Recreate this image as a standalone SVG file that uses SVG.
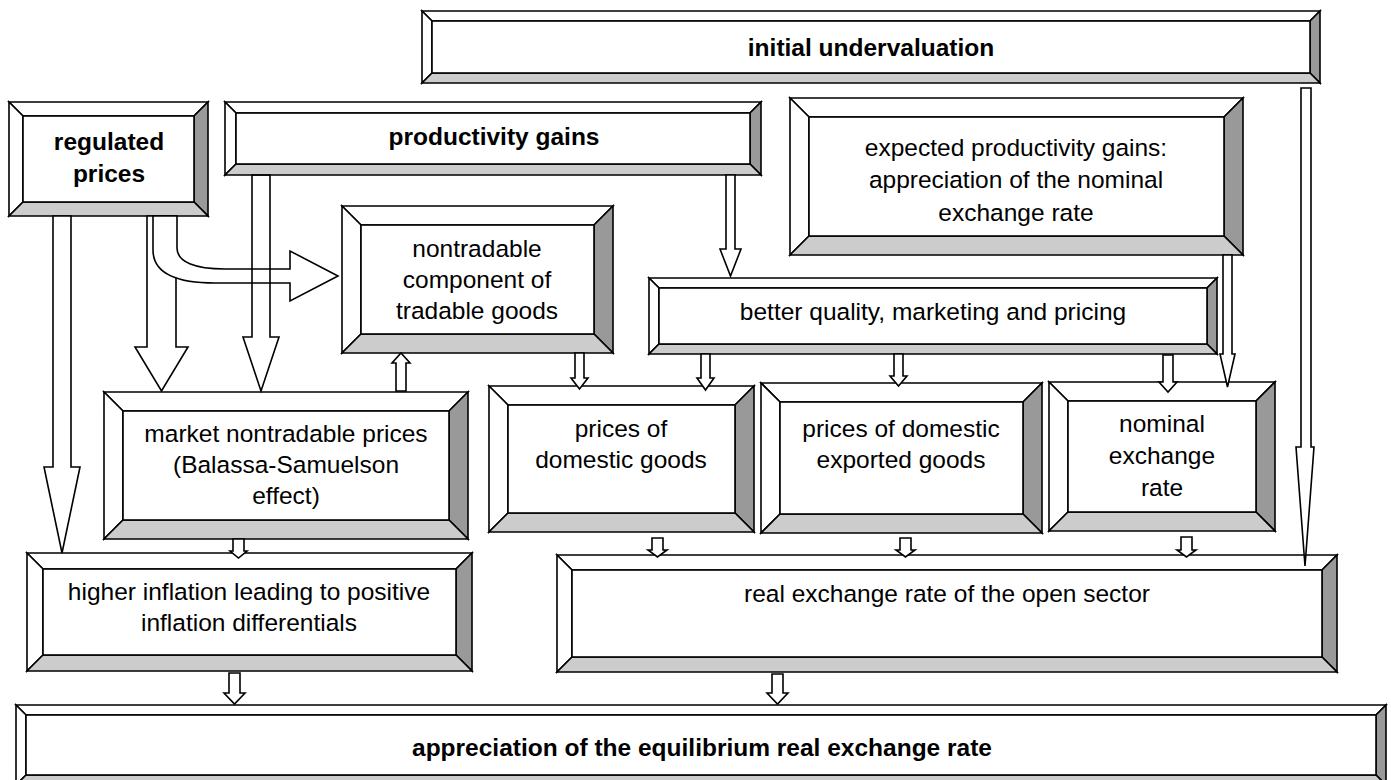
<svg xmlns="http://www.w3.org/2000/svg" width="1391" height="780" viewBox="0 0 1391 780">
<style>
.bx polygon,.bx rect{stroke:#000;stroke-width:1.6;stroke-linejoin:miter}
.w{fill:#fff}
.r{fill:#999}
.b{fill:#ccc}
.ar polygon,.ar path{fill:#fff;stroke:#000;stroke-width:1.6;stroke-linejoin:miter}
.ar .nf{fill:none}
text{font-family:"Liberation Sans",Arial,sans-serif;font-size:24.5px;fill:#000;text-anchor:middle}
.bd{font-weight:bold}
</style>
<rect x="0" y="0" width="1391" height="780" fill="#fff"/>

<g id="initial-undervaluation" class="bx">
<polygon class="w" points="422,11 1320,11 1310,21 432,21"/>
<polygon class="w" points="422,11 432,21 432,73 422,83"/>
<polygon class="r" points="1320,11 1320,83 1310,73 1310,21"/>
<polygon class="b" points="422,83 1320,83 1310,73 432,73"/>
<rect class="w" x="432" y="21" width="878" height="52"/>
<text class="bd" x="871" y="56">initial undervaluation</text>
</g>

<g id="regulated-prices" class="bx">
<polygon class="w" points="9,102 208,102 194,116 23,116"/>
<polygon class="w" points="9,102 23,116 23,202 9,216"/>
<polygon class="r" points="208,102 208,216 194,202 194,116"/>
<polygon class="b" points="9,216 208,216 194,202 23,202"/>
<rect class="w" x="23" y="116" width="171" height="86"/>
<text class="bd" x="109" y="150">regulated</text>
<text class="bd" x="109" y="182">prices</text>
</g>

<g id="productivity-gains" class="bx">
<polygon class="w" points="225,102 761,102 750,113 236,113"/>
<polygon class="w" points="225,102 236,113 236,164 225,175"/>
<polygon class="r" points="761,102 761,175 750,164 750,113"/>
<polygon class="b" points="225,175 761,175 750,164 236,164"/>
<rect class="w" x="236" y="113" width="514" height="51"/>
<text class="bd" x="494" y="145">productivity gains</text>
</g>

<g id="expected-productivity-gains" class="bx">
<polygon class="w" points="790,98 1243,98 1224,117 809,117"/>
<polygon class="w" points="790,98 809,117 809,236 790,255"/>
<polygon class="r" points="1243,98 1243,255 1224,236 1224,117"/>
<polygon class="b" points="790,255 1243,255 1224,236 809,236"/>
<rect class="w" x="809" y="117" width="415" height="119"/>
<text x="1016" y="156">expected productivity gains:</text>
<text x="1016" y="188">appreciation of the nominal</text>
<text x="1016" y="221">exchange rate</text>
</g>

<g id="nontradable-component" class="bx">
<polygon class="w" points="342,206 613,206 594,225 361,225"/>
<polygon class="w" points="342,206 361,225 361,334 342,353"/>
<polygon class="r" points="613,206 613,353 594,334 594,225"/>
<polygon class="b" points="342,353 613,353 594,334 361,334"/>
<rect class="w" x="361" y="225" width="233" height="109"/>
<text x="477" y="257">nontradable</text>
<text x="477" y="288">component of</text>
<text x="477" y="319">tradable goods</text>
</g>

<g id="better-quality" class="bx">
<polygon class="w" points="649,278 1217,278 1207,288 659,288"/>
<polygon class="w" points="649,278 659,288 659,344 649,354"/>
<polygon class="r" points="1217,278 1217,354 1207,344 1207,288"/>
<polygon class="b" points="649,354 1217,354 1207,344 659,344"/>
<rect class="w" x="659" y="288" width="548" height="56"/>
<text x="933" y="320">better quality, marketing and pricing</text>
</g>

<g id="market-nontradable-prices" class="bx">
<polygon class="w" points="104,392 468,392 449,411 123,411"/>
<polygon class="w" points="104,392 123,411 123,520 104,539"/>
<polygon class="r" points="468,392 468,539 449,520 449,411"/>
<polygon class="b" points="104,539 468,539 449,520 123,520"/>
<rect class="w" x="123" y="411" width="326" height="109"/>
<text x="286" y="442">market nontradable prices</text>
<text x="286" y="473">(Balassa-Samuelson</text>
<text x="286" y="504">effect)</text>
</g>

<g id="prices-domestic-goods" class="bx">
<polygon class="w" points="489,386 754,386 735,405 508,405"/>
<polygon class="w" points="489,386 508,405 508,513 489,532"/>
<polygon class="r" points="754,386 754,532 735,513 735,405"/>
<polygon class="b" points="489,532 754,532 735,513 508,513"/>
<rect class="w" x="508" y="405" width="227" height="108"/>
<text x="621" y="437">prices of</text>
<text x="621" y="468">domestic goods</text>
</g>

<g id="prices-exported-goods" class="bx">
<polygon class="w" points="761,383 1042,383 1023,402 780,402"/>
<polygon class="w" points="761,383 780,402 780,514 761,533"/>
<polygon class="r" points="1042,383 1042,533 1023,514 1023,402"/>
<polygon class="b" points="761,533 1042,533 1023,514 780,514"/>
<rect class="w" x="780" y="402" width="243" height="112"/>
<text x="901" y="437">prices of domestic</text>
<text x="901" y="468">exported goods</text>
</g>

<g id="nominal-exchange-rate" class="bx">
<polygon class="w" points="1049,382 1275,382 1256,401 1068,401"/>
<polygon class="w" points="1049,382 1068,401 1068,512 1049,531"/>
<polygon class="r" points="1275,382 1275,531 1256,512 1256,401"/>
<polygon class="b" points="1049,531 1275,531 1256,512 1068,512"/>
<rect class="w" x="1068" y="401" width="188" height="111"/>
<text x="1162" y="432">nominal</text>
<text x="1162" y="464">exchange</text>
<text x="1162" y="496">rate</text>
</g>

<g id="higher-inflation" class="bx">
<polygon class="w" points="27,553 472,553 456,569 43,569"/>
<polygon class="w" points="27,553 43,569 43,655 27,671"/>
<polygon class="r" points="472,553 472,671 456,655 456,569"/>
<polygon class="b" points="27,671 472,671 456,655 43,655"/>
<rect class="w" x="43" y="569" width="413" height="86"/>
<text x="249" y="600">higher inflation leading to positive</text>
<text x="249" y="631">inflation differentials</text>
</g>

<g id="real-exchange-rate-open-sector" class="bx">
<polygon class="w" points="557,555 1337,555 1322,570 572,570"/>
<polygon class="w" points="557,555 572,570 572,657 557,672"/>
<polygon class="r" points="1337,555 1337,672 1322,657 1322,570"/>
<polygon class="b" points="557,672 1337,672 1322,657 572,657"/>
<rect class="w" x="572" y="570" width="750" height="87"/>
<text x="947" y="602">real exchange rate of the open sector</text>
</g>

<g id="appreciation-equilibrium" class="bx">
<polygon class="w" points="16,705 1386,705 1376,715 26,715"/>
<polygon class="w" points="16,705 26,715 26,775 16,785"/>
<polygon class="r" points="1386,705 1386,785 1376,775 1376,715"/>
<polygon class="b" points="16,785 1386,785 1376,775 26,775"/>
<rect class="w" x="26" y="715" width="1350" height="60"/>
<text class="bd" x="702" y="756">appreciation of the equilibrium real exchange rate</text>
</g>

<g id="connectors" class="ar">
<polygon points="53,216 71,216 71,467 80,467 62,553 44,467 53,467"/>
<polygon points="147,216 176,216 176,347 188,347 161.5,391 135,347 147,347"/>
<path d="M153,216 L153,250 C153,272 175,283 215,283 L290,283 L290,301 L338,276 L290,251 L290,269 L225,269 C195,269 177,262 177,248 L177,216 Z"/>
<polygon class="nf" points="252,175 270,175 270,337 279,337 261,391 243,337 252,337"/>
<polygon points="726,175 735,175 735,249 741,249 730.5,276 720,249 726,249"/>
<polygon points="1223,255 1232,255 1232,354 1235,354 1227.5,387 1220,354 1223,354"/>
<polygon points="1301,88 1311,88 1311,447 1314,447 1305,566 1296,447 1301,447"/>
<polygon points="396,391 406,391 406,363 410,363 401,353 392,363 396,363"/>
<polygon points="575,353 584,353 584,378 588,378 579.5,389 571,378 575,378"/>
<polygon points="701,354 710,354 710,378 714,378 705.5,390 697,378 701,378"/>
<polygon points="894,354 903,354 903,376 907,376 898.5,386 890,376 894,376"/>
<polygon points="1163,355 1173,355 1173,382 1177,382 1168,392 1159,382 1163,382"/>
<polygon points="233,539 244,539 244,551 247,551 238.5,558 230,551 233,551"/>
<polygon points="652,538 663,538 663,550 667,550 657.5,557 648,550 652,550"/>
<polygon points="900,538 911,538 911,550 915,550 905.5,557 896,550 900,550"/>
<polygon points="1181,537 1192,537 1192,550 1196,550 1186.5,557 1177,550 1181,550"/>
<polygon points="229,673 240,673 240,693 245,693 234.5,704 224,693 229,693"/>
<polygon points="772,674 783,674 783,693 788,693 777.5,704 767,693 772,693"/>
</g>
</svg>
